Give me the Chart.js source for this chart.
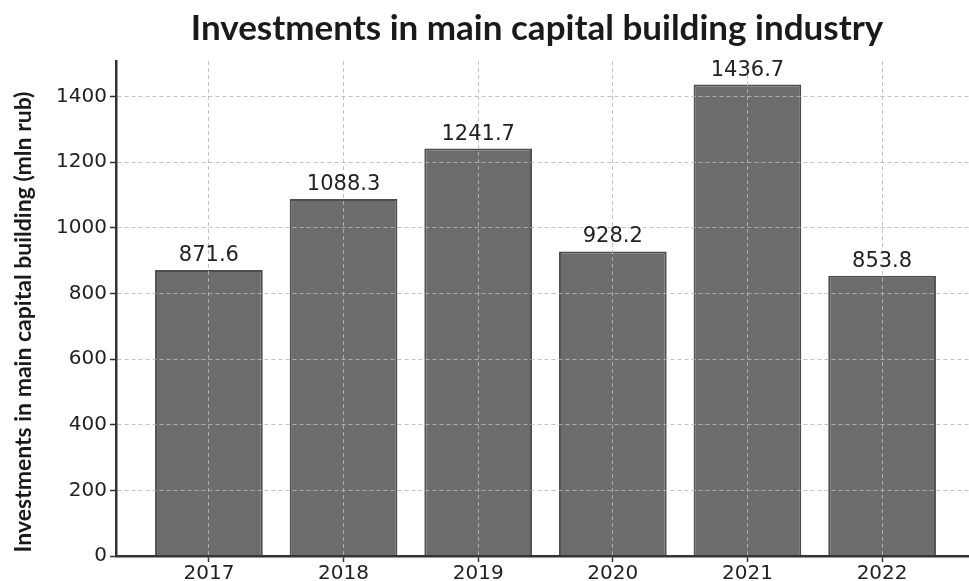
<!DOCTYPE html>
<html>
<head>
<meta charset="utf-8">
<script src="https://cdn.jsdelivr.net/npm/chart.js@4"></script>
<style>
html,body{margin:0;padding:0;background:#fff;overflow:hidden;width:969px;height:581px;}
#wrap{position:absolute;left:0;top:0;width:990px;height:581px;}
</style>
</head>
<body>
<div id="wrap"><canvas id="c" width="990" height="581"></canvas></div>
<script>
const chartTitle = "Investments in main capital building industry";
const yAxisTitle = "Investments in main capital building (mln rub)";
const years = ["2017", "2018", "2019", "2020", "2021", "2022"];
const investments = [871.6, 1088.3, 1241.7, 928.2, 1436.7, 853.8];
const yTicks = [0, 200, 400, 600, 800, 1000, 1200, 1400];

const valueLabels = {
  id: 'valueLabels',
  afterDraw(chart) {
    const ctx = chart.ctx;
    const meta = chart.getDatasetMeta(0);
    ctx.save();
    ctx.font = '21px "DejaVu Sans"';
    ctx.fillStyle = '#222';
    ctx.textAlign = 'center';
    ctx.textBaseline = 'alphabetic';
    meta.data.forEach((el, i) => {
      ctx.fillText(investments[i].toFixed(1), el.x, el.y - 9);
    });
    ctx.restore();
  }
};

const titles = {
  id: 'titles',
  afterDraw(chart) {
    const ctx = chart.ctx;
    ctx.save();
    ctx.fillStyle = '#1a1a1a';
    ctx.textAlign = 'center';
    ctx.textBaseline = 'alphabetic';
    ctx.font = 'bold 35px Lato';
    ctx.fillText(chartTitle, 537, 40);
    ctx.translate(31, 322);
    ctx.rotate(-Math.PI / 2);
    ctx.font = 'bold 23px Lato';
    ctx.fillText(yAxisTitle, 0, 0);
    ctx.restore();
  }
};

const gridColor = 'rgba(185,185,185,0.85)';

new Chart(document.getElementById('c'), {
  type: 'bar',
  data: {
    datasets: [{
      data: investments.map((v, i) => ({x: i, y: v})),
      backgroundColor: '#6c6c6c',
      borderColor: '#4d4d4d',
      borderWidth: 2,
      categoryPercentage: 1,
      barPercentage: 0.8
    }]
  },
  options: {
    responsive: false,
    animation: false,
    layout: {padding: {top: 61, right: 15, left: 0, bottom: 0}},
    plugins: {legend: {display: false}, tooltip: {enabled: false}, title: {display: false}},
    scales: {
      x: {
        type: 'linear',
        min: -0.69,
        max: 5.69,
        offset: false,
        afterBuildTicks(axis) { axis.ticks = years.map((_, i) => ({value: i})); },
        afterFit(axis) { axis.height = 25; },
        ticks: {
          callback: (v) => years[v],
          font: {family: 'DejaVu Sans', size: 20},
          color: '#222',
          padding: 0,
          maxRotation: 0,
          autoSkip: false,
          z: 1
        },
        grid: {
          offset: false,
          color: gridColor,
          lineWidth: 1,
          tickColor: '#333',
          tickLength: 6,
          tickWidth: 1.5,
          z: 1
        },
        border: {display: true, color: '#333', width: 2.5, dash: [4, 3], z: 2}
      },
      y: {
        type: 'linear',
        min: 0,
        max: 1508.5,
        afterBuildTicks(axis) { axis.ticks = yTicks.map(v => ({value: v})); },
        afterFit(axis) { axis.width = 116; },
        ticks: {
          callback: (v) => String(v),
          font: {family: 'DejaVu Sans', size: 20},
          color: '#222',
          padding: 3,
          z: 1
        },
        grid: {
          color: gridColor,
          lineWidth: 1,
          tickColor: '#333',
          tickLength: 6,
          tickWidth: 1.5,
          z: 1
        },
        border: {display: true, color: '#333', width: 2.5, dash: [4, 3], z: 2}
      }
    }
  },
  plugins: [valueLabels, titles]
});
</script>
</body>
</html>
